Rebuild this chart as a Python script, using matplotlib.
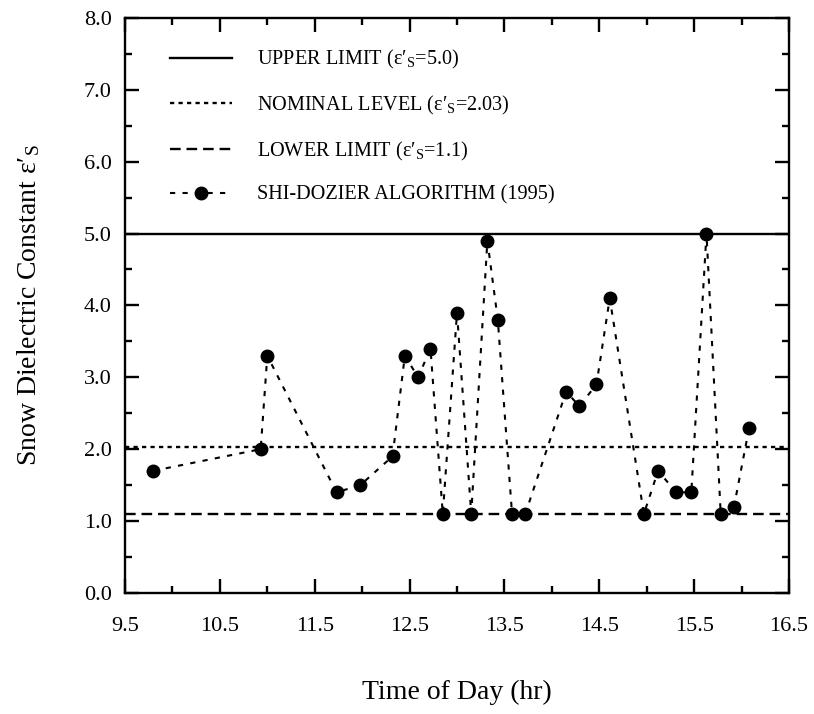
import numpy as np
import matplotlib
matplotlib.use('Agg')
import matplotlib.pyplot as plt
from matplotlib.ticker import MultipleLocator, FormatStrFormatter

plt.rcParams['font.family'] = ['Liberation Serif', 'DejaVu Serif']
plt.rcParams['mathtext.fontset'] = 'custom'
plt.rcParams['mathtext.rm'] = 'Liberation Serif'
plt.rcParams['mathtext.it'] = 'Liberation Serif:italic'

# data
time_hr = [9.80, 10.93, 11.00, 11.73, 11.98, 12.32, 12.45, 12.59, 12.72, 12.85,
           13.00, 13.15, 13.32, 13.43, 13.58, 13.72, 14.15, 14.29, 14.47, 14.61,
           14.97, 15.12, 15.31, 15.47, 15.63, 15.78, 15.92, 16.08]
eps_s = [1.7, 2.0, 3.3, 1.4, 1.5, 1.9, 3.3, 3.0, 3.4, 1.1,
         3.9, 1.1, 4.9, 3.8, 1.1, 1.1, 2.8, 2.6, 2.9, 4.1,
         1.1, 1.7, 1.4, 1.4, 5.0, 1.1, 1.2, 2.3]

upper_limit = 5.0
nominal_level = 2.03
lower_limit = 1.1

fig = plt.figure(figsize=(8.14, 7.14), dpi=100)
ax = fig.add_axes([0.1536, 0.1695, 0.8157, 0.8055])

ax.axhline(upper_limit, color='black', lw=1.7, ls='-',
           label="UPPER LIMIT (ε′$_\\mathrm{S}$=5.0)")
ax.axhline(nominal_level, color='black', lw=1.7, ls=(0, (1.8, 1.8)),
           label="NOMINAL LEVEL (ε′$_\\mathrm{S}$=2.03)")
ax.axhline(lower_limit, color='black', lw=1.7, ls=(0, (4.5, 2.5)),
           label="LOWER LIMIT (ε′$_\\mathrm{S}$=1.1)")
ax.plot(time_hr, eps_s, color='black', lw=1.5, ls=(0, (2.5, 3.5)),
        marker='o', ms=9, label="SHI-DOZIER ALGORITHM (1995)")

ax.set_xlim(9.5, 16.5)
ax.set_ylim(0, 8)
ax.set_xticks(np.arange(9.5, 16.6, 1.0))
ax.set_xticks(np.arange(10.0, 16.1, 1.0), minor=True)
ax.yaxis.set_major_locator(MultipleLocator(1.0))
ax.yaxis.set_minor_locator(MultipleLocator(0.5))
ax.xaxis.set_major_formatter(FormatStrFormatter('%.1f'))
ax.yaxis.set_major_formatter(FormatStrFormatter('%.1f'))

ax.tick_params(which='both', direction='in', top=True, right=True, width=1.7)
ax.tick_params(which='major', length=10, labelsize=16)
ax.tick_params(which='minor', length=5)
ax.tick_params(axis='x', which='major', pad=17)
ax.tick_params(axis='y', which='major', pad=9.5)
for sp in ax.spines.values():
    sp.set_linewidth(1.7)

ax.set_xlabel('Time of Day (hr)', fontsize=20, labelpad=32)
ax.set_ylabel("Snow Dielectric Constant ε′$_\\mathrm{S}$", fontsize=20, labelpad=30)

ax.legend(loc='upper left', bbox_to_anchor=(0.068, 0.947), frameon=False,
          fontsize=14.6, handlelength=3.05, handletextpad=1.23, labelspacing=1.12,
          borderaxespad=0, borderpad=0, numpoints=1)

fig.savefig('out.png', dpi=100)
